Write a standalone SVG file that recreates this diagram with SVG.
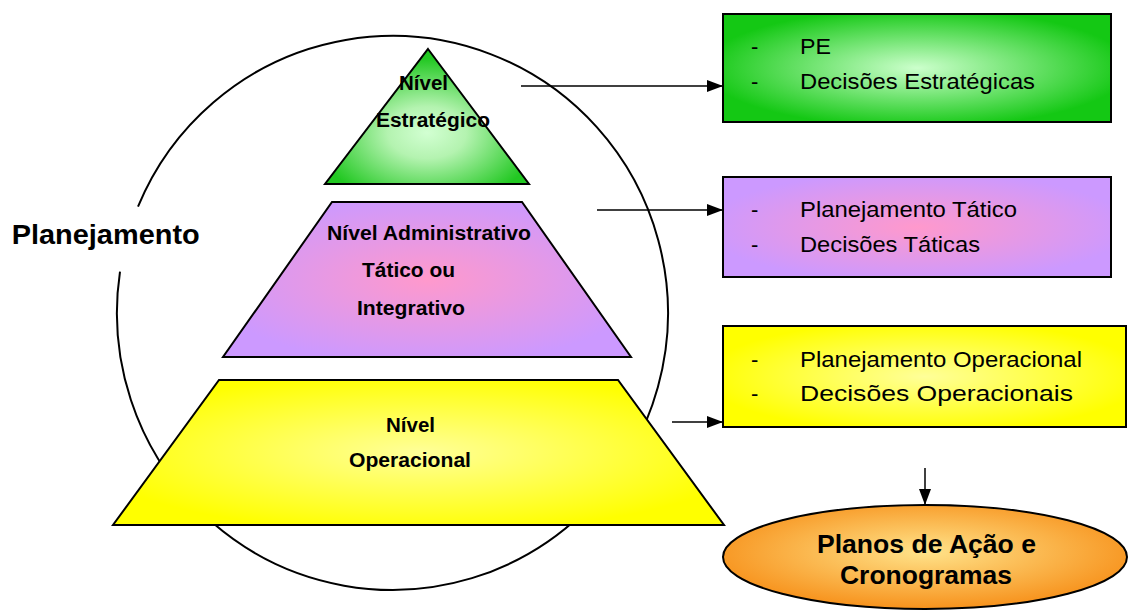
<svg xmlns="http://www.w3.org/2000/svg" width="1129" height="610" viewBox="0 0 1129 610">
  <defs>
    <radialGradient id="gGreen" cx="0.5" cy="0.62" r="0.55">
      <stop offset="0" stop-color="#d2ffd2"/>
      <stop offset="0.35" stop-color="#b4f3b0"/>
      <stop offset="1" stop-color="#22c822"/>
    </radialGradient>
    <radialGradient id="gGreenBox" cx="0.5" cy="0.5" r="0.55">
      <stop offset="0" stop-color="#ccffcc"/>
      <stop offset="1" stop-color="#14c814"/>
    </radialGradient>
    <radialGradient id="gPurple" cx="0.5" cy="0.5" r="0.55">
      <stop offset="0" stop-color="#ff99cc"/>
      <stop offset="1" stop-color="#cc99ff"/>
    </radialGradient>
    <radialGradient id="gYellow" cx="0.5" cy="0.5" r="0.55">
      <stop offset="0" stop-color="#ffff99"/>
      <stop offset="1" stop-color="#ffff00"/>
    </radialGradient>
    <radialGradient id="gOrange" cx="0.5" cy="0.45" r="0.55">
      <stop offset="0" stop-color="#ffe38a"/>
      <stop offset="1" stop-color="#f7921c"/>
    </radialGradient>
    <marker id="arrow" markerUnits="userSpaceOnUse" markerWidth="16" markerHeight="12" refX="16" refY="6" orient="auto">
      <path d="M0,0 L16,6 L0,12 z" fill="#000"/>
    </marker>
  </defs>
  <style>
    .shape { stroke: #000; stroke-width: 2; stroke-linejoin: miter; }
    .lvl { font-family: "Liberation Sans", Arial, sans-serif; font-weight: bold; font-size: 20px; fill: #000; }
    .box { font-family: "Liberation Sans", Arial, sans-serif; font-size: 22px; fill: #000; }
    .big { font-family: "Liberation Sans", Arial, sans-serif; font-weight: bold; fill: #000; }
    .conn { stroke: #000; stroke-width: 1.5; fill: none; }
  </style>

  <g id="circle-planejamento">
    <path d="M138,206.7 A275.5 277 0 1 1 120,271.7" fill="none" stroke="#000" stroke-width="2"/>
    <text class="big" x="11.7" y="244" font-size="28" textLength="188" lengthAdjust="spacingAndGlyphs">Planejamento</text>
  </g>

  <g id="nivel-estrategico">
    <polygon class="shape" points="428,49 529,184 325,184" fill="url(#gGreen)"/>
    <text class="lvl" x="399" y="90" textLength="49" lengthAdjust="spacingAndGlyphs">Nível</text>
    <text class="lvl" x="376" y="127" textLength="114" lengthAdjust="spacingAndGlyphs">Estratégico</text>
  </g>

  <g id="nivel-tatico">
    <polygon class="shape" points="332,202 522,202 631,357 223,357" fill="url(#gPurple)"/>
    <text class="lvl" x="327" y="240" textLength="204" lengthAdjust="spacingAndGlyphs">Nível Administrativo</text>
    <text class="lvl" x="362" y="277" textLength="93" lengthAdjust="spacingAndGlyphs">Tático ou</text>
    <text class="lvl" x="357" y="315" textLength="108" lengthAdjust="spacingAndGlyphs">Integrativo</text>
  </g>

  <g id="nivel-operacional">
    <polygon class="shape" points="219,380 618,380 724,525 113,525" fill="url(#gYellow)"/>
    <text class="lvl" x="386" y="432" textLength="49" lengthAdjust="spacingAndGlyphs">Nível</text>
    <text class="lvl" x="349" y="467" textLength="122" lengthAdjust="spacingAndGlyphs">Operacional</text>
  </g>

  <g id="box-estrategico">
    <rect class="shape" x="723" y="14" width="388" height="108" fill="url(#gGreenBox)"/>
    <text class="box" x="751" y="54">-</text>
    <text class="box" x="800" y="54" textLength="31" lengthAdjust="spacingAndGlyphs">PE</text>
    <text class="box" x="751" y="89">-</text>
    <text class="box" x="800" y="89" textLength="235" lengthAdjust="spacingAndGlyphs">Decisões Estratégicas</text>
  </g>

  <g id="box-tatico">
    <rect class="shape" x="723" y="177" width="388" height="100" fill="url(#gPurple)"/>
    <text class="box" x="751" y="217">-</text>
    <text class="box" x="800" y="217" textLength="217" lengthAdjust="spacingAndGlyphs">Planejamento Tático</text>
    <text class="box" x="751" y="252">-</text>
    <text class="box" x="800" y="252" textLength="180" lengthAdjust="spacingAndGlyphs">Decisões Táticas</text>
  </g>

  <g id="box-operacional">
    <rect class="shape" x="723" y="326" width="403" height="101" fill="url(#gYellow)"/>
    <text class="box" x="751" y="367">-</text>
    <text class="box" x="800" y="367" textLength="282" lengthAdjust="spacingAndGlyphs">Planejamento Operacional</text>
    <text class="box" x="751" y="401">-</text>
    <text class="box" x="800" y="401" font-size="24.5" textLength="273" lengthAdjust="spacingAndGlyphs">Decisões Operacionais</text>
  </g>

  <g id="planos-acao">
    <ellipse class="shape" cx="925" cy="557" rx="202" ry="52" fill="url(#gOrange)"/>
    <text class="big" x="817" y="553" font-size="25" textLength="219" lengthAdjust="spacingAndGlyphs">Planos de Ação e</text>
    <text class="big" x="840" y="584" font-size="25" textLength="172" lengthAdjust="spacingAndGlyphs">Cronogramas</text>
  </g>

  <g id="connectors">
    <line class="conn" x1="521" y1="86" x2="723" y2="86" marker-end="url(#arrow)"/>
    <line class="conn" x1="597" y1="210" x2="723" y2="210" marker-end="url(#arrow)"/>
    <line class="conn" x1="672" y1="422" x2="723" y2="422" marker-end="url(#arrow)"/>
    <line class="conn" x1="925" y1="468" x2="925" y2="505" marker-end="url(#arrow)"/>
  </g>
</svg>
